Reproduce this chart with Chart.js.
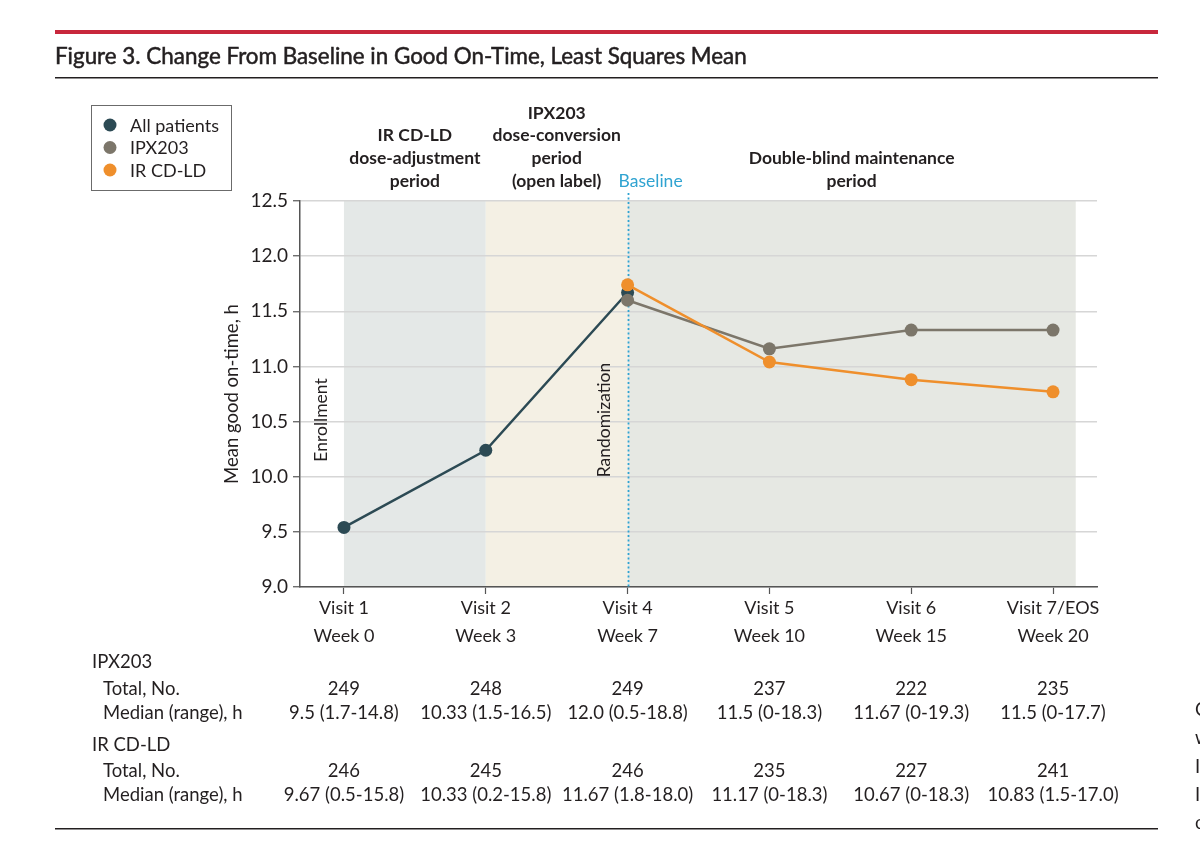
<!DOCTYPE html>
<html>
<head>
<meta charset="utf-8">
<script src="https://cdn.jsdelivr.net/npm/chart.js@4/dist/chart.umd.min.js"></script>
<style>
  html, body { margin: 0; padding: 0; background: #fff; }
  #wrap { width: 1200px; height: 860px; position: relative; }
</style>
</head>
<body>
<div id="wrap"><canvas id="c" width="1200" height="860"></canvas></div>
<script>
// ---- Data ----
const visitLabels = ['Visit 1', 'Visit 2', 'Visit 4', 'Visit 5', 'Visit 6', 'Visit 7/EOS'];
const weekLabels = ['Week 0', 'Week 3', 'Week 7', 'Week 10', 'Week 15', 'Week 20'];
const allPatients = [9.54, 10.24, 11.67, null, null, null];
const ipx203 = [null, null, 11.60, 11.16, 11.33, 11.33];
const irCdLd = [null, null, 11.74, 11.04, 10.88, 10.77];
const yTicks = [9.0, 9.5, 10.0, 10.5, 11.0, 11.5, 12.0, 12.5];

const ipxTotals = ['249', '248', '249', '237', '222', '235'];
const ipxMedians = ['9.5 (1.7-14.8)', '10.33 (1.5-16.5)', '12.0 (0.5-18.8)', '11.5 (0-18.3)', '11.67 (0-19.3)', '11.5 (0-17.7)'];
const irTotals = ['246', '245', '246', '235', '227', '241'];
const irMedians = ['9.67 (0.5-15.8)', '10.33 (0.2-15.8)', '11.67 (1.8-18.0)', '11.17 (0-18.3)', '10.67 (0-18.3)', '10.83 (1.5-17.0)'];

const periodHeaders = [
  { from: 0, to: 1, lines: ['IR CD-LD', 'dose-adjustment', 'period'] },
  { from: 1, to: 2, lines: ['IPX203', 'dose-conversion', 'period', '(open label)'] },
  { from: 2, to: 5.16, lines: ['Double-blind maintenance', 'period'] }
];
const bands = [
  { from: 0, to: 1, color: '#e4e8e7' },
  { from: 1, to: 2, color: '#f4f0e4' },
  { from: 2, to: 5.16, color: '#e6e8e3' }
];
const seriesNames = ['All patients', 'IPX203', 'IR CD-LD'];
const seriesColors = ['#2c4a54', '#7c766a', '#ef8f2c'];

const FONT = "Lato, 'Liberation Sans', sans-serif";
const TXT = '#231f20';

function pts(arr) { return arr.map((v, i) => ({ x: i, y: v })); }

const decor = {
  id: 'decor',
  beforeDraw(chart) {
    const { ctx, scales: { x, y } } = chart;
    ctx.save();
    ctx.fillStyle = '#fff';
    ctx.fillRect(0, 0, chart.width, chart.height);
    bands.forEach(b => {
      const x0 = x.getPixelForValue(b.from), x1 = x.getPixelForValue(b.to);
      const y0 = y.getPixelForValue(12.5), y1 = y.getPixelForValue(9.0);
      ctx.fillStyle = b.color;
      ctx.fillRect(x0, y0, x1 - x0, y1 - y0);
    });
    ctx.restore();
  },
  beforeDatasetsDraw(chart) {
    const { ctx, scales: { x, y } } = chart;
    ctx.save();
    const bx = Math.round(x.getPixelForValue(2)) + 0.5;
    ctx.strokeStyle = '#2fa3d1';
    ctx.lineWidth = 1.8;
    ctx.setLineDash([2, 2.5]);
    ctx.beginPath();
    ctx.moveTo(bx, 193);
    ctx.lineTo(bx, y.getPixelForValue(9.0));
    ctx.stroke();
    ctx.restore();
  },
  afterDraw(chart) {
    const { ctx, scales: { x, y } } = chart;
    ctx.save();
    // top rules and title
    ctx.fillStyle = '#c8273c';
    ctx.fillRect(55, 30, 1103, 4);
    ctx.fillStyle = '#231f20';
    ctx.fillRect(55, 77, 1103, 1.5);
    ctx.fillRect(55, 828, 1103, 1.5);
    ctx.fillStyle = TXT;
    ctx.strokeStyle = TXT;
    ctx.lineWidth = 0.5;
    ctx.font = `22.4px ${FONT}`;
    ctx.textBaseline = 'alphabetic';
    ctx.textAlign = 'left';
    const title = 'Figure 3. Change From Baseline in Good On-Time, Least Squares Mean';
    ctx.fillText(title, 55, 64);
    ctx.strokeText(title, 55, 64);

    // legend
    ctx.strokeStyle = '#6b6b6b';
    ctx.lineWidth = 1;
    ctx.strokeRect(91.5, 105.5, 140, 85);
    ctx.font = `18px ${FONT}`;
    ctx.textBaseline = 'middle';
    seriesNames.forEach((n, i) => {
      const ly = 125 + i * 22.5;
      ctx.fillStyle = seriesColors[i];
      ctx.beginPath();
      ctx.arc(110, ly, 6.5, 0, Math.PI * 2);
      ctx.fill();
      ctx.fillStyle = TXT;
      ctx.fillText(n, 130, ly + 1);
    });

    // period headers
    ctx.font = `bold 17.5px ${FONT}`;
    ctx.textAlign = 'center';
    periodHeaders.forEach(h => {
      const cx = (x.getPixelForValue(h.from) + x.getPixelForValue(h.to)) / 2;
      const n = h.lines.length;
      h.lines.forEach((t, i) => {
        ctx.fillText(t, cx, 181 - (n - 1 - i) * 22.7);
      });
    });
    // Baseline label
    ctx.font = `17.5px ${FONT}`;
    ctx.textAlign = 'left';
    ctx.fillStyle = '#2fa3d1';
    ctx.fillText('Baseline', x.getPixelForValue(2) - 9, 181);

    // rotated labels
    ctx.fillStyle = TXT;
    const rot = (txt, cx, cy, font) => {
      ctx.save();
      ctx.translate(cx, cy);
      ctx.rotate(-Math.PI / 2);
      ctx.font = font;
      ctx.textAlign = 'center';
      ctx.textBaseline = 'middle';
      ctx.fillText(txt, 0, 0);
      ctx.restore();
    };
    rot('Enrollment', 321, 420, `17.5px ${FONT}`);
    rot('Randomization', 604, 420, `17.5px ${FONT}`);
    rot('Mean good on-time, h', 232, (y.getPixelForValue(9) + y.getPixelForValue(12.5)) / 2, `18.5px ${FONT}`);

    // table
    ctx.font = `18.5px ${FONT}`;
    ctx.textBaseline = 'middle';
    ctx.textAlign = 'left';
    ctx.fillText('IPX203', 92, 662);
    ctx.fillText('Total, No.', 103, 689);
    ctx.fillText('Median (range), h', 103, 713);
    ctx.fillText('IR CD-LD', 92, 745);
    ctx.fillText('Total, No.', 103, 771);
    ctx.fillText('Median (range), h', 103, 795);
    ctx.textAlign = 'center';
    for (let i = 0; i < visitLabels.length; i++) {
      const cx = x.getPixelForValue(i);
      ctx.fillText(ipxTotals[i], cx, 689);
      ctx.fillText(ipxMedians[i], cx, 713);
      ctx.fillText(irTotals[i], cx, 771);
      ctx.fillText(irMedians[i], cx, 795);
    }
    // clipped text at right edge
    ctx.textAlign = 'left';
    ['C', 'w', 'I', 'I', 'c'].forEach((t, i) => ctx.fillText(t, 1195, 710 + i * 28.3));
    ctx.restore();
  }
};

new Chart(document.getElementById('c'), {
  type: 'line',
  data: {
    datasets: [
      { label: seriesNames[0], data: pts(allPatients), borderColor: seriesColors[0], backgroundColor: seriesColors[0], order: 3 },
      { label: seriesNames[1], data: pts(ipx203), borderColor: seriesColors[1], backgroundColor: seriesColors[1], order: 2 },
      { label: seriesNames[2], data: pts(irCdLd), borderColor: seriesColors[2], backgroundColor: seriesColors[2], order: 1 }
    ]
  },
  options: {
    responsive: false,
    animation: false,
    devicePixelRatio: 1,
    layout: { padding: { top: 201, right: 103, left: 220, bottom: 0 } },
    elements: {
      line: { borderWidth: 2.5, tension: 0 },
      point: { radius: 6.5, hoverRadius: 6.5, borderWidth: 0 }
    },
    plugins: { legend: { display: false }, tooltip: { enabled: false } },
    scales: {
      x: {
        type: 'linear',
        min: -0.31,
        max: 5.31,
        afterFit: s => { s.height = 273; },
        afterBuildTicks: s => { s.ticks = visitLabels.map((_, i) => ({ value: i })); },
        grid: { drawOnChartArea: false, drawTicks: true, tickLength: 7, tickColor: '#555', tickWidth: 1.2 },
        border: { color: '#555', width: 1.5 },
        ticks: {
          autoSkip: false,
          maxRotation: 0,
          padding: 0,
          color: TXT,
          font: { family: FONT, size: 18, lineHeight: 1.55 },
          callback: v => [visitLabels[v], weekLabels[v]]
        }
      },
      y: {
        min: 9,
        max: 12.5,
        afterFit: s => { s.width = 80; },
        afterBuildTicks: s => { s.ticks = yTicks.map(v => ({ value: v })); },
        grid: { color: '#d6d6d6', lineWidth: 1.5, tickLength: 7, tickColor: '#555', tickWidth: 1.2 },
        border: { color: '#555', width: 1.5 },
        ticks: {
          padding: 5,
          color: TXT,
          font: { family: FONT, size: 19 },
          callback: v => v.toFixed(1)
        }
      }
    }
  },
  plugins: [decor]
});
</script>
</body>
</html>
